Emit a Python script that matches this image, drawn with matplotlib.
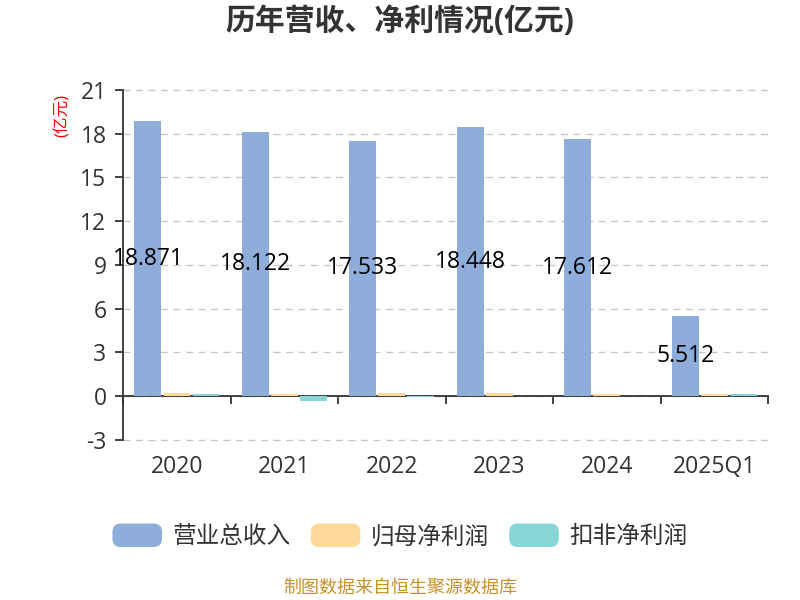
import matplotlib
matplotlib.use("Agg")
import matplotlib.pyplot as plt
from matplotlib.patches import FancyBboxPatch, Patch
from matplotlib.legend_handler import HandlerPatch
import numpy as np

plt.rcParams['font.family'] = ['Open Sans', 'Noto Sans CJK SC', 'DejaVu Sans']
plt.rcParams['axes.unicode_minus'] = False

# data (亿元)
years = ['2020', '2021', '2022', '2023', '2024', '2025Q1']
revenue = [18.871, 18.122, 17.533, 18.448, 17.612, 5.512]
netProfit = [0.23, 0.16, 0.20, 0.22, 0.15, 0.18]
deductedProfit = [0.16, -0.30, -0.02, 0.01, 0.01, 0.14]
seriesNames = ['营业总收入', '归母净利润', '扣非净利润']
colors = ['#8eaddb', '#ffd99a', '#88d5d8']


class RoundBoxHandler(HandlerPatch):
    def create_artists(self, legend, orig_handle, xdescent, ydescent,
                       width, height, fontsize, trans):
        box = FancyBboxPatch((-xdescent, -ydescent), width, height,
                             boxstyle="round,pad=0,rounding_size=6",
                             facecolor=orig_handle.get_facecolor(),
                             edgecolor='none', transform=trans)
        return [box]


fig = plt.figure(figsize=(8, 6), dpi=100)
ax = fig.add_axes([0.154, 0.2667, 0.806, 0.5833])

x = np.arange(len(years))
width = 0.25
offsets = [-0.27, 0.0, 0.27]
allValues = [revenue, netProfit, deductedProfit]

barsList = []
for values, off, col in zip(allValues, offsets, colors):
    bars = ax.bar(x + off, values, width, color=col, zorder=3)
    barsList.append(bars)

ax.bar_label(barsList[0], labels=[f"{v:.3f}" for v in revenue],
             label_type='center', fontsize=16.5, color='#000000', zorder=5)

ax.set_xlim(-0.5, len(years) - 0.5)
ax.set_ylim(-3, 21)
ax.set_yticks(np.arange(-3, 22, 3))
ax.tick_params(axis='y', labelsize=16.5, colors='#333333', length=6, width=1.3, pad=6)

ax.spines['top'].set_visible(False)
ax.spines['right'].set_visible(False)
ax.spines['left'].set_color('#333333')
ax.spines['left'].set_linewidth(1.3)
ax.spines['bottom'].set_position(('data', 0))
ax.spines['bottom'].set_color('#333333')
ax.spines['bottom'].set_linewidth(1.3)

ax.set_xticks(x)
ax.set_xticklabels(years)
ax.tick_params(axis='x', which='major', length=0, pad=42, labelsize=16.5, colors='#333333')
ax.set_xticks(np.arange(-0.5, len(years), 1.0), minor=True)
ax.tick_params(axis='x', which='minor', length=6, width=1.3, color='#333333')

ax.yaxis.grid(True, linestyle=(0, (5, 4)), color='#c8c8c8', linewidth=1.0, zorder=0)
ax.set_axisbelow(True)
for gl in ax.get_ygridlines():
    gl.set_clip_on(False)

fig.text(0.5, 0.963, '历年营收、净利情况(亿元)', ha='center', va='center',
         fontsize=21.5, fontweight='bold', color='#333333')
fig.text(0.078, 0.808, '(亿元)', rotation=90, ha='center', va='center',
         fontsize=12, color='#ff0000')

handles = [Patch(facecolor=c) for c in colors]
fig.legend(handles, seriesNames, loc='center', bbox_to_anchor=(0.5, 0.106),
           ncol=3, frameon=False, fontsize=17, labelcolor='#333333',
           handlelength=2.1, handleheight=1.15, handletextpad=0.45, columnspacing=0.85,
           handler_map={Patch: RoundBoxHandler()})

fig.text(0.5, 0.02, '制图数据来自恒生聚源数据库', ha='center', va='center',
         fontsize=13, color='#c8922a')

fig.savefig('out.png', dpi=100)
